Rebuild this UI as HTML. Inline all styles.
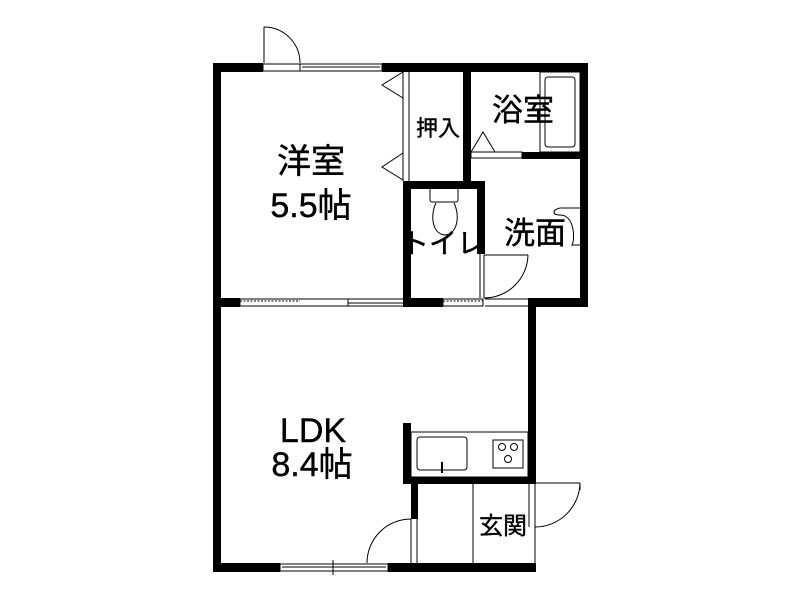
<!DOCTYPE html>
<html><head><meta charset="utf-8"><style>
body{margin:0;background:#fff}
svg{display:block}
text{font-family:"Liberation Sans","Noto Sans CJK JP",sans-serif;fill:#000}
</style></head><body>
<svg width="800" height="600" viewBox="0 0 800 600" xmlns="http://www.w3.org/2000/svg">
<g fill="#000">
<rect x="213" y="63" width="50" height="9"/>
<rect x="382" y="63" width="206" height="9"/>
<rect x="213" y="63" width="8" height="509"/>
<rect x="580" y="63" width="8" height="244"/>
<rect x="463" y="63" width="8" height="125"/>
<rect x="522" y="152" width="66" height="7"/>
<rect x="403" y="181" width="82" height="8"/>
<rect x="403" y="181" width="8" height="126"/>
<rect x="477" y="181" width="8" height="73"/>
<rect x="213" y="298" width="27" height="9"/>
<rect x="403" y="298" width="40" height="9"/>
<rect x="528" y="298" width="60" height="9"/>
<rect x="528" y="298" width="8" height="185"/>
<rect x="403" y="423" width="8" height="60"/>
<rect x="403" y="477" width="133" height="7"/>
<rect x="411" y="477" width="7" height="42"/>
<rect x="213" y="563" width="67" height="9"/>
<rect x="388" y="563" width="148" height="9"/>
</g>
<g fill="none" stroke="#000" stroke-width="1">
<line x1="264" y1="27" x2="264" y2="63"/>
<path d="M264,27 A36,36 0 0 1 300,63"/>
<rect x="263" y="64" width="37" height="7"/>
<rect x="300" y="64" width="82" height="7"/>
<line x1="302" y1="67" x2="380" y2="67"/>
<line x1="403" y1="72" x2="403" y2="181"/>
<line x1="409" y1="72" x2="409" y2="181"/>
<polyline points="403,72 382,85 403,98"/>
<polyline points="403,153 382,167 403,180"/>
<rect x="471" y="152" width="51" height="6"/>
<polyline points="471,152 483,132 495,152"/>
<rect x="540" y="72" width="40" height="80"/>
<rect x="545" y="77" width="30" height="70" rx="3"/>
<rect x="430" y="188" width="28" height="14" rx="2"/>
<path d="M436,203 C430,215 432,234 445,235 C458,234 460,215 454,203"/>
<line x1="484" y1="255" x2="484" y2="298"/>
<line x1="480" y1="254" x2="480" y2="298"/>
<line x1="484" y1="255" x2="528" y2="255"/>
<path d="M528,255 A44,44 0 0 1 484,298"/>
<path d="M580,208 L560,208 C552,210 552,215 560,215 C575,215 575,240 572,245 L580,245"/>
<rect x="240" y="299" width="108" height="7"/>
<line x1="240" y1="301" x2="300" y2="301" stroke-dasharray="2,1.5"/>
<line x1="348" y1="303" x2="403" y2="303"/>
<line x1="348" y1="299" x2="403" y2="299"/>
<line x1="348" y1="306" x2="403" y2="306"/>
<rect x="443" y="299" width="40" height="7"/>
<line x1="443" y1="301" x2="483" y2="301" stroke-dasharray="2,1.5"/>
<line x1="485" y1="299" x2="528" y2="299"/>
<line x1="485" y1="306" x2="528" y2="306"/>
<rect x="411" y="432" width="117" height="45"/>
<rect x="417" y="437" width="50" height="33" rx="3"/>
<line x1="442" y1="462" x2="442" y2="473" stroke-width="2"/>
<rect x="493" y="440" width="30" height="28"/>
<circle cx="502" cy="447" r="3.5"/>
<circle cx="514" cy="447" r="3.5"/>
<circle cx="508" cy="459" r="3.5"/>
<line x1="473" y1="484" x2="473" y2="563"/>
<line x1="411" y1="519" x2="411" y2="563"/>
<line x1="417" y1="519" x2="417" y2="563"/>
<path d="M411,519 A44,44 0 0 0 367,563"/>
<line x1="529" y1="484" x2="529" y2="527"/>
<line x1="535" y1="484" x2="535" y2="563"/>
<line x1="535" y1="483" x2="580" y2="483"/>
<line x1="580" y1="483" x2="580" y2="490"/>
<path d="M580,483 A45,45 0 0 1 535,527"/>
<rect x="280" y="564" width="108" height="7"/>
<line x1="282" y1="567" x2="386" y2="567"/>
<line x1="333" y1="560" x2="333" y2="575"/>
</g>
<g text-anchor="middle" stroke="#000" stroke-width="0.4">
<text x="311" y="173" font-size="34">洋室</text>
<text x="311" y="217" font-size="34">5.5帖</text>
<text x="438" y="136" font-size="22">押入</text>
<text x="523" y="121" font-size="31">浴室</text>
<text x="443" y="253" font-size="28">トイレ</text>
<text x="535" y="244" font-size="31">洗面</text>
<text x="313" y="442" font-size="34">LDK</text>
<text x="312" y="476" font-size="34">8.4帖</text>
<text x="503" y="534" font-size="24">玄関</text>
</g>
</svg>
</body></html>
